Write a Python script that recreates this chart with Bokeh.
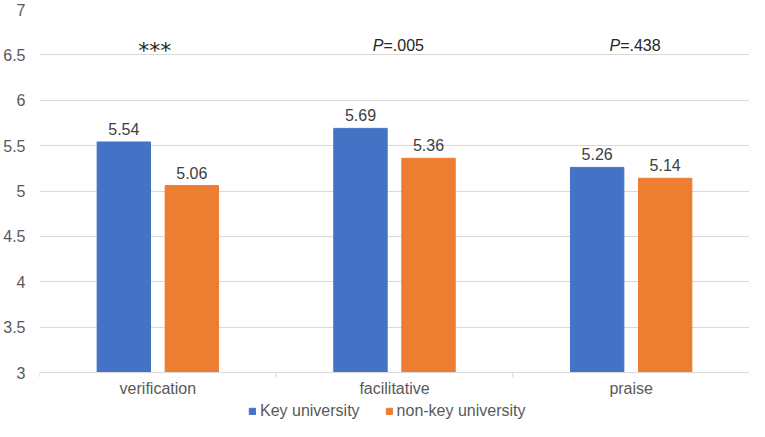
from bokeh.plotting import figure
from bokeh.models import (Range1d, FixedTicker, Legend, LegendItem,
                          ColumnDataSource, Span)
from bokeh.core.properties import value
from bokeh.embed import file_html
from bokeh.resources import INLINE
import numpy as np

# ---- data ----
categories = ["verification", "facilitative", "praise"]
key_univ = [5.54, 5.69, 5.26]
nonkey_univ = [5.06, 5.36, 5.14]
series_names = ["Key university", "non-key university"]
stars = ["***", "", ""]
p_values = ["", ".005", ".438"]
y_ticks = [3, 3.5, 4, 4.5, 5, 5.5, 6, 6.5, 7]

# ---- style / layout ----
BLUE = "#4472C4"
ORANGE = "#ED7D31"
GRID = "#D9D9D9"
TICK_TXT = "#595959"
LABEL_TXT = "#404040"
FONT = "Liberation Sans"
BAR_W = 0.2256
OFFSET = 0.1437
ANNOT_Y = 6.603
W, H = 749, 421
TOP_BORDER = 9
LEFT_BORDER = 31
AXIS_PX_FROM_BOTTOM = 49      # pixels between the y=3 axis line and the figure bottom
Y_MIN, Y_MAX = y_ticks[0], y_ticks[-1]
px_per_unit = (H - TOP_BORDER - AXIS_PX_FROM_BOTTOM) / (Y_MAX - Y_MIN)
y_start = Y_MIN - AXIS_PX_FROM_BOTTOM / px_per_unit
tick_len = 5 / px_per_unit

n = len(categories)
centers = np.arange(n) + 0.5
bounds = np.arange(n + 1)

p = figure(width=W, height=H, x_range=Range1d(0, n), y_range=Range1d(y_start, Y_MAX),
           output_backend="svg", toolbar_location=None, x_axis_location=None)
p.min_border_left = LEFT_BORDER
p.min_border_right = 0
p.min_border_top = TOP_BORDER
p.min_border_bottom = 0
p.outline_line_color = None
p.background_fill_color = "white"
p.border_fill_color = "white"

src = ColumnDataSource(dict(
    x_key=centers - OFFSET, x_non=centers + OFFSET,
    key=key_univ, non=nonkey_univ,
    key_lbl=[f"{v:.2f}" for v in key_univ],
    non_lbl=[f"{v:.2f}" for v in nonkey_univ],
))

r1 = p.vbar(x="x_key", top="key", bottom=Y_MIN, width=BAR_W, source=src,
            fill_color=BLUE, line_color=BLUE)
r2 = p.vbar(x="x_non", top="non", bottom=Y_MIN, width=BAR_W, source=src,
            fill_color=ORANGE, line_color=ORANGE)

for xcol, ycol, lcol in (("x_key", "key", "key_lbl"), ("x_non", "non", "non_lbl")):
    p.text(x=xcol, y=ycol, text=lcol, source=src, text_align="center",
           text_baseline="alphabetic", y_offset=-13, text_font=value(FONT),
           text_font_size="16px", text_color=LABEL_TXT)

# significance annotations
ann = ColumnDataSource(dict(
    x=centers, y=[ANNOT_Y] * n, stars=stars,
    pref=["P" if v else "" for v in p_values],
    rest=["=" + v if v else "" for v in p_values],
))
p.text(x="x", y="y", text="stars", source=ann, text_align="center",
       text_baseline="alphabetic", x_offset=-3, y_offset=5,
       text_font=value("DejaVu Sans"), text_font_size="22px", text_color="#262626")
p.text(x="x", y="y", text="pref", source=ann, text_align="right",
       text_baseline="alphabetic", x_offset=-11, text_font=value(FONT),
       text_font_style="italic", text_font_size="16px", text_color="#262626")
p.text(x="x", y="y", text="rest", source=ann, text_align="left",
       text_baseline="alphabetic", x_offset=-11, text_font=value(FONT),
       text_font_size="16px", text_color="#262626")

# y axis & grid
p.yaxis.ticker = FixedTicker(ticks=y_ticks)
p.yaxis.major_label_overrides = {t: f"{t:g}" for t in y_ticks}
p.yaxis.axis_line_color = None
p.yaxis.major_tick_line_color = None
p.yaxis.minor_tick_line_color = None
p.yaxis.major_label_text_font = FONT
p.yaxis.major_label_text_font_size = "16px"
p.yaxis.major_label_text_color = TICK_TXT
p.yaxis.major_label_standoff = 8
p.ygrid.ticker = FixedTicker(ticks=y_ticks[1:])
p.ygrid.grid_line_color = GRID
p.xgrid.grid_line_color = None

# category axis (line at y=3, boundary ticks, category labels)
p.add_layout(Span(location=Y_MIN, dimension="width", line_color=GRID, line_width=1))
p.segment(x0=bounds, x1=bounds, y0=Y_MIN, y1=Y_MIN - tick_len, line_color=GRID,
          line_width=1)
p.text(x=centers, y=[Y_MIN] * n, text=categories, text_align="center",
       text_baseline="middle", y_offset=16, text_font=value(FONT),
       text_font_size="16px", text_color=TICK_TXT)

legend = Legend(items=[LegendItem(label=series_names[0], renderers=[r1]),
                       LegendItem(label=series_names[1], renderers=[r2])],
                orientation="horizontal", location=(209, 1),
                glyph_width=8, glyph_height=8, label_standoff=4, spacing=25,
                padding=0, margin=0, border_line_color=None, label_height=16,
                background_fill_alpha=0, label_text_font=FONT,
                label_text_font_size="16px", label_text_color=TICK_TXT)
p.add_layout(legend, "center")

open("out.html", "w").write(file_html(p, INLINE))
